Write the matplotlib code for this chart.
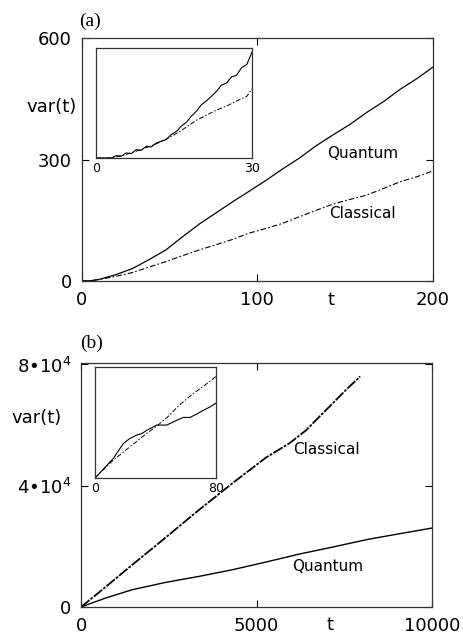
import numpy as np
import matplotlib.pyplot as plt

# ---- data ----
# (a) main panel, 0 < t < 200
t_a = [0, 5, 10, 19, 29, 38, 48, 57, 67, 76, 86, 95, 105, 114, 124, 133, 143, 153, 162, 172, 181, 191, 200]
quantum_a = [0, 0.5, 4, 15, 31, 52, 77, 108, 141, 167, 196, 221, 249, 276, 304, 333, 361, 388, 416, 444, 473, 501, 529]
classical_a = [0, 0.5, 4, 11, 21, 34, 48, 62, 77, 89, 103, 118, 130, 142, 159, 174, 190, 202, 212, 229, 245, 258, 272]

# (a) inset, 0 < t < 30
t_ia_q = [0, 2.9, 3.9, 4.8, 5.8, 6.8, 7.7, 8.7, 9.7, 10.6, 11.6, 12.6, 13.5, 14.5, 15.5, 16.4, 17.4,
          18.3, 19.3, 20.3, 21.2, 22.2, 23.2, 24.1, 25.1, 26.1, 27.0, 28.0, 29.0, 30.0]
quantum_ia = [0, 0, 0.6, 0.43, 1.28, 1.1, 2.1, 1.96, 3.0, 2.8, 3.8, 4.3, 4.7, 6.0, 6.8, 8.1, 9.1,
              10.6, 11.9, 13.6, 14.5, 15.7, 17.0, 18.5, 19.1, 20.7, 21.0, 23.0, 23.8, 27.0]
t_ia_c = [0, 3, 5, 7, 9, 11, 13, 15, 16.4, 17.4, 19.3, 21.2, 23.2, 25.1, 27.0, 29.0, 30.0]
classical_ia = [0, 0, 0.6, 1.4, 2.3, 3.3, 4.4, 5.9, 7.0, 7.9, 9.6, 10.9, 12.2, 13.2, 14.5, 15.7, 17.6]

# (b) main panel, 0 < t < 10000
t_b_c = [0, 514, 1465, 2417, 3368, 4320, 5271, 5937, 6413, 6793, 7174, 7555, 7954]
classical_b = [0, 4835, 13956, 22968, 32090, 40880, 49300, 54000, 58300, 62800, 67200, 71700, 76050]
t_b_q = [0, 704, 1465, 2417, 3368, 4320, 5271, 6223, 7174, 8126, 9077, 10000]
quantum_b = [0, 2967, 5714, 8132, 10110, 12308, 14835, 17473, 19780, 22198, 24176, 26044]

# (b) inset, 0 < t < 80 (arbitrary units)
t_ib_q = [0, 12.1, 18.7, 23.1, 27.6, 30.9, 34.2, 40.8, 47.4, 54.0, 58.4, 62.8, 67.2, 71.6, 76.0, 80.0]
quantum_ib = [0, 0.177, 0.31, 0.357, 0.387, 0.40, 0.43, 0.477, 0.477, 0.52, 0.546, 0.546, 0.576, 0.61, 0.64, 0.675]
t_ib_c = [0, 12, 23, 34, 41, 48, 56, 64, 72, 80]
classical_ib = [0, 0.16, 0.28, 0.40, 0.47, 0.55, 0.66, 0.75, 0.83, 0.915]

dashdot = (5, 2, 1.5, 2)


def style_main(ax):
    for s in ax.spines.values():
        s.set_linewidth(0.9)
        s.set_color('#333333')
    ax.tick_params(direction='in', length=5, width=0.8, top=True, right=True,
                   labelsize=13, pad=7)


def style_inset(ax):
    for s in ax.spines.values():
        s.set_linewidth(0.9)
        s.set_color('#333333')
    ax.tick_params(length=0, labelsize=9, pad=3)
    ax.set_yticks([])


fig = plt.figure(figsize=(4.63, 6.35), dpi=100)

# ---- panel (a) ----
ax1 = fig.add_axes([0.1765, 0.5575, 0.7588, 0.3822])
ax1.plot(t_a, quantum_a, color='black', lw=0.9)
ax1.plot(t_a, classical_a, color='black', lw=0.8, dashes=dashdot)
ax1.set_xlim(0, 200)
ax1.set_ylim(0, 600)
ax1.set_xticks([0, 100, 200])
ax1.set_yticks([0, 300, 600])
style_main(ax1)
ax1.text(160, 316, 'Quantum', fontsize=11, ha='center', va='center')
ax1.text(160, 166, 'Classical', fontsize=11, ha='center', va='center')
ax1.text(-0.087, 0.717, 'var(t)', transform=ax1.transAxes, fontsize=13, ha='center', va='center')
ax1.text(0.71, -0.078, 't', transform=ax1.transAxes, fontsize=13, ha='center', va='center')
fig.text(0.194, 0.967, '(a)', family='Liberation Serif', fontsize=14, ha='center', va='center')

in1 = fig.add_axes([0.2073, 0.7512, 0.337, 0.1732])
in1.plot(t_ia_q, quantum_ia, color='black', lw=0.8)
in1.plot(t_ia_c, classical_ia, color='black', lw=0.7, dashes=dashdot)
in1.set_xlim(0, 30)
in1.set_ylim(0, 28)
in1.set_xticks([0, 30])
style_inset(in1)

# ---- panel (b) ----
ax2 = fig.add_axes([0.175, 0.0441, 0.758, 0.3843])
ax2.plot(t_b_q, quantum_b, color='black', lw=1.0)
ax2.plot(t_b_c, classical_b, color='black', lw=1.3, dashes=(6, 0.8, 1.5, 0.8))
ax2.set_xlim(0, 10000)
ax2.set_ylim(0, 80500)
ax2.set_xticks([0, 5000, 10000])
ax2.set_yticks([0, 40000, 80000])
ax2.set_yticklabels(['0', '4•10$^4$', '8•10$^4$'])
style_main(ax2)
ax2.text(6980, 51900, 'Classical', fontsize=11, ha='center', va='center')
ax2.text(7020, 13300, 'Quantum', fontsize=11, ha='center', va='center')
ax2.text(-0.128, 0.775, 'var(t)', transform=ax2.transAxes, fontsize=13, ha='center', va='center')
ax2.text(0.709, -0.074, 't', transform=ax2.transAxes, fontsize=13, ha='center', va='center')
fig.text(0.198, 0.46, '(b)', family='Liberation Serif', fontsize=14, ha='center', va='center')

in2 = fig.add_axes([0.2052, 0.2472, 0.2613, 0.1748])
in2.plot(t_ib_q, quantum_ib, color='black', lw=0.8)
in2.plot(t_ib_c, classical_ib, color='black', lw=0.7, dashes=dashdot)
in2.set_xlim(0, 80)
in2.set_ylim(0, 1)
in2.set_xticks([0, 80])
style_inset(in2)

fig.savefig('out.png', dpi=100)
